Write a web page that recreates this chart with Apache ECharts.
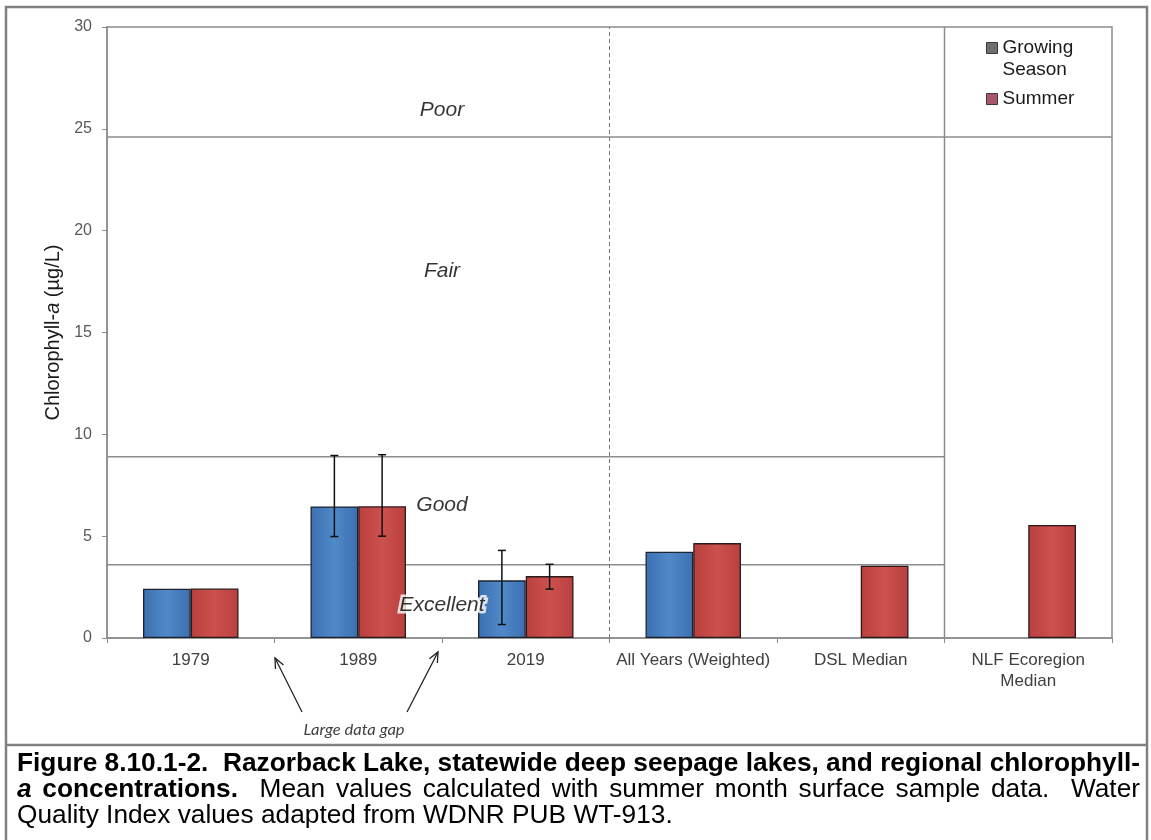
<!DOCTYPE html>
<html>
<head>
<meta charset="utf-8">
<script src="https://cdn.jsdelivr.net/npm/echarts@6/dist/echarts.min.js"></script>
<style>html,body{margin:0;padding:0;background:#fff}#c{width:1151px;height:840px}</style>
</head>
<body>
<div id="c"></div>
<script>
// ---------- data ----------
const categories = ['1979', '1989', '2019', 'All Years (Weighted)', 'DSL Median', 'NLF Ecoregion\nMedian'];
const growingSeason = [2.42, 6.46, 2.83, 4.24, null, null];
const summer = [2.43, 6.47, 3.04, 4.66, 3.55, 5.55];
const growingErrLow = [null, 4.98, 0.66, null, null, null];
const growingErrHigh = [null, 8.96, 4.30, null, null, null];
const summerErrLow = [null, 5.00, 2.40, null, null, null];
const summerErrHigh = [null, 9.00, 3.62, null, null, null];
const yTicks = [0, 5, 10, 15, 20, 25, 30];
const qualityBreaks = [3.6, 8.9, 24.6];          // Excellent|Good, Good|Fair, Fair|Poor
const qualityBreakEnds = [5, 5, 6];               // category-position where each break line ends
const qualityLabels = ['Excellent', 'Good', 'Fair', 'Poor'];
const qualityLabelY = [1.6, 6.5, 18.0, 25.9];
const qualityLabelX = 2;
const dividerDashed = 3;  // between 2019 and All Years
const dividerSolid = 5;   // between DSL and NLF
const captionLine1 = 'Figure 8.10.1-2.  Razorback Lake, statewide deep seepage lakes, and regional chlorophyll-';
const captionLine3 = 'Quality Index values adapted from WDNR PUB WT-913.';

// ---------- layout constants ----------
const GAP = 0.43;
const FONT = '"Liberation Sans", Arial, sans-serif';

const chart = echarts.init(document.getElementById('c'));

function grad(edge, mid) {
  return { type: 'linear', x: 0, y: 0, x2: 1, y2: 0,
    colorStops: [{ offset: 0, color: edge }, { offset: 0.5, color: mid }, { offset: 1, color: edge }] };
}

const errData = [];
categories.forEach((c, i) => {
  if (growingErrLow[i] != null) errData.push([i, growingErrLow[i], growingErrHigh[i], -1]);
  if (summerErrLow[i] != null) errData.push([i, summerErrLow[i], summerErrHigh[i], 1]);
});

const lineSeries = [];
qualityBreaks.forEach((v, i) => {
  lineSeries.push({ type: 'line', xAxisIndex: 1, silent: true, symbol: 'none', z: 1,
    lineStyle: { color: '#8c8c8c', width: 1.5 }, data: [[0, v], [qualityBreakEnds[i], v]] });
});
lineSeries.push({ type: 'line', xAxisIndex: 1, silent: true, symbol: 'none', z: 1,
  lineStyle: { color: '#777', width: 1, type: [4, 3] }, data: [[dividerDashed, 0], [dividerDashed, 30]] });
lineSeries.push({ type: 'line', xAxisIndex: 1, silent: true, symbol: 'none', z: 1,
  lineStyle: { color: '#8c8c8c', width: 1.5 }, data: [[dividerSolid, 0], [dividerSolid, 30]] });

// ---------- caption (justified) ----------
const ctx = document.createElement('canvas').getContext('2d');
const CAP_FS = 25;
function fontStr(st) {
  return (st.indexOf('i') >= 0 ? 'italic ' : '') + (st.indexOf('b') >= 0 ? 'bold ' : '') + CAP_FS + 'px "Liberation Sans"';
}
function mw(t, st) { ctx.font = fontStr(st); return ctx.measureText(t).width; }
const X0 = 17, X1 = 1140;
const SCALE = (X1 - X0) / mw(captionLine1, 'b');
function textEl(t, st, x, y) {
  return { type: 'text', x: x, y: y, scaleX: SCALE, originX: 0, originY: 0, silent: true,
    style: { text: t, x: 0, y: 0, fontSize: CAP_FS, fontFamily: FONT,
      fontWeight: st.indexOf('b') >= 0 ? 'bold' : 'normal',
      fontStyle: st.indexOf('i') >= 0 ? 'italic' : 'normal',
      fill: '#000', align: 'left', verticalAlign: 'middle' } };
}
function justify(tokens, y) {
  // tokens: [text, style, spacesBefore]
  let total = 0, spaces = 0;
  tokens.forEach(tk => { total += mw(tk[0], tk[1]) * SCALE + tk[2] * mw(' ', tk[1]) * SCALE; spaces += tk[2]; });
  const extra = (X1 - X0 - total) / spaces;
  const els = [];
  let x = X0;
  tokens.forEach(tk => {
    x += tk[2] * (mw(' ', tk[1]) * SCALE + extra);
    els.push(textEl(tk[0], tk[1], x, y));
    x += mw(tk[0], tk[1]) * SCALE;
  });
  return els;
}
const line2Tokens = [['a', 'bi', 0], ['concentrations.', 'b', 1]];
'Mean values calculated with summer month surface sample data.'.split(' ').forEach((wd, i) => line2Tokens.push([wd, 'r', i === 0 ? 2 : 1]));
line2Tokens.push(['Water', 'r', 2]);

function arrow(x1, y1, x2, y2) {
  const ang = Math.atan2(y2 - y1, x2 - x1), L = 11, a = 0.42;
  const p1 = [x2 - L * Math.cos(ang - a), y2 - L * Math.sin(ang - a)];
  const p2 = [x2 - L * Math.cos(ang + a), y2 - L * Math.sin(ang + a)];
  const st = { stroke: '#222', lineWidth: 1.3, fill: null };
  return [
    { type: 'line', silent: true, shape: { x1: x1, y1: y1, x2: x2, y2: y2 }, style: st },
    { type: 'polyline', silent: true, shape: { points: [p1, [x2, y2], p2] }, style: st }
  ];
}

const graphics = [
  { type: 'rect', silent: true, shape: { x: 6, y: 7, width: 1141, height: 850 }, style: { fill: 'none', stroke: '#808080', lineWidth: 2.5 } },
  { type: 'line', silent: true, shape: { x1: 6, y1: 745, x2: 1147, y2: 745 }, style: { stroke: '#808080', lineWidth: 2.5 } },
  { type: 'text', x: 354, y: 730, scaleX: 1.1, silent: true,
    style: { text: 'Large data gap', fontFamily: 'Lato, "Open Sans", sans-serif', fontStyle: 'italic', fontSize: 15,
      fill: '#404040', align: 'center', verticalAlign: 'middle' } }
].concat(arrow(302, 712, 275, 658), arrow(407, 712, 438, 652))
 .concat([textEl(captionLine1, 'b', X0, 764)])
 .concat(justify(line2Tokens, 790))
 .concat([textEl(captionLine3, 'r', X0, 816)]);

const option = {
  animation: false,
  backgroundColor: '#fff',
  textStyle: { fontFamily: FONT },
  grid: { left: 107, top: 27, right: 39, bottom: 202, show: true, borderColor: '#8c8c8c', borderWidth: 1.5 },
  legend: {
    orient: 'vertical', left: 986, top: 15, padding: 0, itemGap: 7,
    itemWidth: 11, itemHeight: 11, icon: 'rect', selectedMode: false,
    textStyle: { fontSize: 19, color: '#1a1a1a', lineHeight: 22, fontFamily: FONT },
    formatter: n => n === 'Growing Season' ? '\nGrowing\nSeason' : n,
    data: [
      { name: 'Growing Season', itemStyle: { color: '#707070', borderColor: '#3a3a3a', borderWidth: 1 } },
      { name: 'Summer', itemStyle: { color: '#a9566a', borderColor: '#3a3a3a', borderWidth: 1 } }
    ]
  },
  xAxis: [
    { type: 'category', data: categories,
      axisLine: { lineStyle: { color: '#8c8c8c', width: 1.5 } },
      axisTick: { show: true, length: 5, lineStyle: { color: '#8c8c8c' } },
      axisLabel: { fontSize: 17, color: '#404040', margin: 12, lineHeight: 21, interval: 0 } },
    { type: 'value', min: 0, max: 6, show: false }
  ],
  yAxis: {
    type: 'value', min: yTicks[0], max: yTicks[yTicks.length - 1], interval: yTicks[1] - yTicks[0],
    name: '{n|Chlorophyll-}{i|a}{n| (µg/L)}', nameLocation: 'middle', nameGap: 42,
    nameTextStyle: { rich: { n: { fontSize: 20, color: '#1a1a1a', fontFamily: FONT }, i: { fontSize: 20, color: '#1a1a1a', fontStyle: 'italic', fontFamily: FONT } } },
    axisLine: { show: true, lineStyle: { color: '#8c8c8c', width: 1.5 } },
    axisTick: { show: true, length: 5, lineStyle: { color: '#8c8c8c' } },
    axisLabel: { fontSize: 16, color: '#595959', margin: 15 },
    splitLine: { show: false }
  },
  series: [
    { name: 'Growing Season', type: 'bar', data: growingSeason, barGap: '0%', barCategoryGap: (GAP * 100) + '%', z: 3,
      itemStyle: { color: grad('#3c6fb0', '#5089c9'), borderColor: '#1d2430', borderWidth: 1.3 } },
    { name: 'Summer', type: 'bar', data: summer, barGap: '0%', barCategoryGap: (GAP * 100) + '%', z: 3,
      itemStyle: { color: grad('#b8403e', '#cd514e'), borderColor: '#2a1a1a', borderWidth: 1.3 } },
    { type: 'custom', name: 'err', silent: true, z: 4, data: errData, encode: { x: 0, y: [1, 2] },
      renderItem: (params, api) => {
        const idx = api.value(0), lo = api.value(1), hi = api.value(2), side = api.value(3);
        const band = api.size([1, 0])[0];
        const bw = band * (1 - GAP) / 2;
        const pLo = api.coord([idx, lo]), pHi = api.coord([idx, hi]);
        const x = pLo[0] + side * bw / 2, cap = 4;
        const st = { stroke: '#111', lineWidth: 1.5 };
        return { type: 'group', children: [
          { type: 'line', shape: { x1: x, y1: pLo[1], x2: x, y2: pHi[1] }, style: st },
          { type: 'line', shape: { x1: x - cap, y1: pLo[1], x2: x + cap, y2: pLo[1] }, style: st },
          { type: 'line', shape: { x1: x - cap, y1: pHi[1], x2: x + cap, y2: pHi[1] }, style: st }
        ] };
      } },
    ...lineSeries,
    { type: 'scatter', xAxisIndex: 1, silent: true, symbolSize: 0, z: 6,
      data: qualityLabels.map((n, i) => ({ name: n, value: [qualityLabelX, qualityLabelY[i]] })),
      label: { show: true, position: 'inside', formatter: '{b}', fontSize: 21, fontStyle: 'italic', color: '#000',
        fontFamily: FONT, textBorderColor: '#fff', textBorderWidth: 5 } }
  ],
  graphic: graphics
};
chart.setOption(option);
</script>
</body>
</html>
